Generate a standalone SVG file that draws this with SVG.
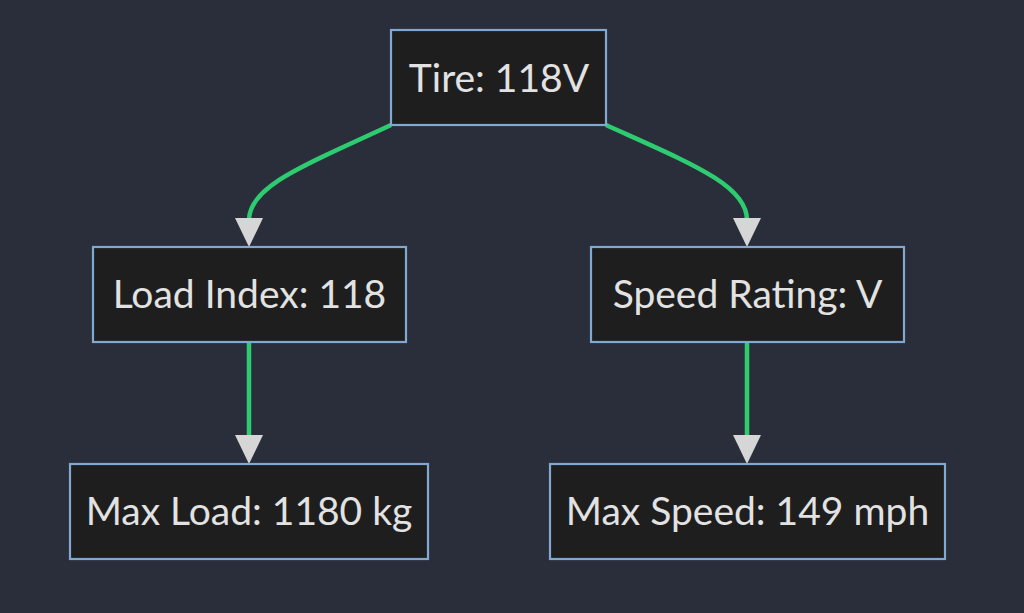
<svg xmlns="http://www.w3.org/2000/svg" width="1024" height="613" viewBox="0 0 1024 613">
<defs>
<style>
.node rect{fill:#1e1e1e;stroke:#81a8d0;stroke-width:2.2}
.node text{fill:#e2e2e2;font-family:Lato,"Open Sans","Liberation Sans",sans-serif;font-size:39px;text-anchor:middle}
.edge{fill:none;stroke:#2ecc71;stroke-width:4.5}
.head{fill:#d6d6d6}
</style>
</defs>
<rect width="1024" height="613" fill="#2a2e3a"/>
<g id="connectors">
<path class="edge" d="M391,125 C310,163 249,185 249,220"/>
<polygon class="head" points="235,218 263,218 249,247"/>
<path class="edge" d="M606,125 C690,163 747,185 747,220"/>
<polygon class="head" points="733,218 761,218 747,247"/>
<path class="edge" d="M249,342 L249,437"/>
<polygon class="head" points="235,435 263,435 249,464"/>
<path class="edge" d="M747,342 L747,437"/>
<polygon class="head" points="733,435 761,435 747,464"/>
</g>
<g id="tire" class="node"><rect x="391" y="30" width="215" height="95"/><text x="499" y="92">Tire: 118V</text></g>
<g id="load-index" class="node"><rect x="93" y="247" width="313" height="95"/><text x="249.5" y="308">Load Index: 118</text></g>
<g id="speed-rating" class="node"><rect x="591" y="247" width="313" height="95"/><text x="747.5" y="308">Speed Rating: V</text></g>
<g id="max-load" class="node"><rect x="70" y="464" width="358" height="95"/><text x="249" y="525">Max Load: 1180 kg</text></g>
<g id="max-speed" class="node"><rect x="550" y="464" width="395" height="95"/><text x="747.5" y="525">Max Speed: 149 mph</text></g>
</svg>
